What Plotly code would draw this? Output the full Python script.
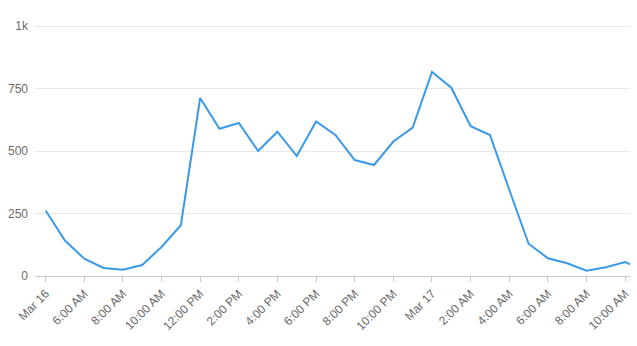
import plotly.graph_objects as go
import pandas as pd

times = pd.date_range("2024-03-16 04:00", "2024-03-17 11:00", freq="h")
values = [262, 142, 69, 32, 25, 44, 116, 203,
          712, 589, 612, 500, 577, 480, 618, 564, 464, 444, 538, 594,
          816, 753, 599, 564, 345, 129, 71, 51, 21, 35, 56, 20]

tick_times = pd.date_range("2024-03-16 04:00", "2024-03-17 10:00", freq="2h")
tick_labels = ["Mar 16", "6:00 AM", "8:00 AM", "10:00 AM", "12:00 PM", "2:00 PM",
               "4:00 PM", "6:00 PM", "8:00 PM", "10:00 PM", "Mar 17", "2:00 AM",
               "4:00 AM", "6:00 AM", "8:00 AM", "10:00 AM"]

fig = go.Figure(go.Scatter(x=times, y=values, mode="lines",
                           line=dict(color="#3a9ae8", width=2),
                           hoverinfo="x+y"))

fig.update_layout(
    width=637, height=346,
    margin=dict(l=35, r=5, t=23, b=70),
    plot_bgcolor="white", paper_bgcolor="white",
    showlegend=False,
    font=dict(family="Liberation Sans, Arial, sans-serif", size=12, color="#6a6a6a"),
)
fig.update_xaxes(
    range=[pd.Timestamp("2024-03-16 03:27"), pd.Timestamp("2024-03-17 10:15")],
    tickvals=tick_times, ticktext=tick_labels, tickangle=-45,
    showgrid=False, showline=True, linecolor="#c8c8c8", linewidth=1,
    ticks="outside", ticklen=5, tickcolor="#c8c8c8",
)
fig.update_yaxes(
    range=[0, 1012], tickvals=[0, 250, 500, 750, 1000],
    ticktext=["0", "250", "500", "750", "1k"],
    showgrid=True, gridcolor="#e8e8e8", gridwidth=1, zeroline=False,
    showline=False, ticks="", ticklabelstandoff=6,
)
fig.write_html("out.html")
